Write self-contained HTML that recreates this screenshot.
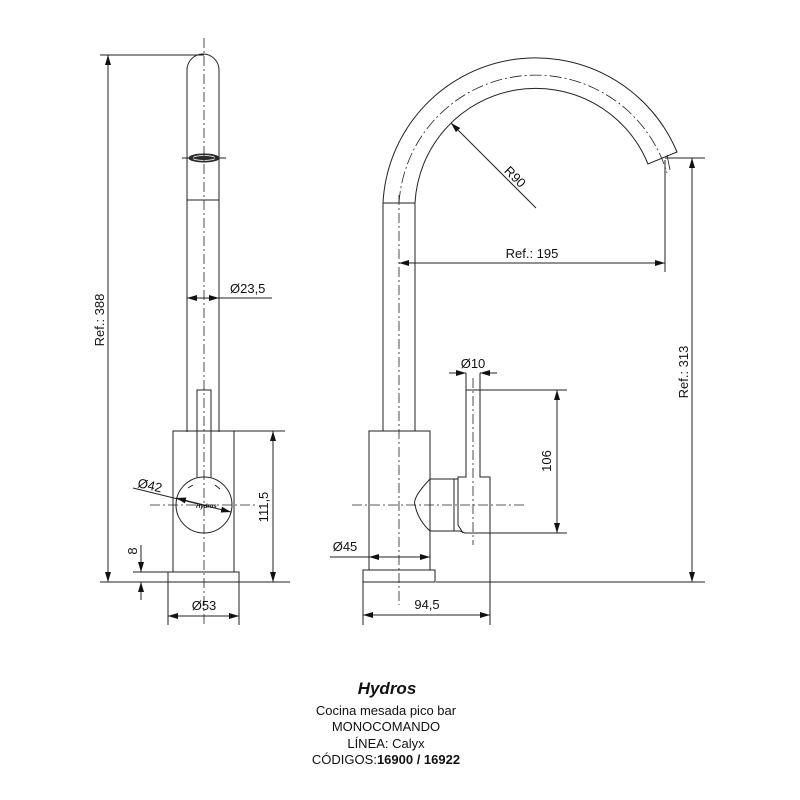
<!DOCTYPE html>
<html><head><meta charset="utf-8"><style>
html,body{margin:0;padding:0;background:#fff}
svg{display:block}
text{font-family:"Liberation Sans",sans-serif;fill:#111}
</style></head><body>
<svg width="800" height="800" viewBox="0 0 800 800" xmlns="http://www.w3.org/2000/svg">
<defs>
<marker id="a" viewBox="0 0 10 6" refX="10" refY="3" markerWidth="10" markerHeight="6" orient="auto-start-reverse" markerUnits="userSpaceOnUse"><path d="M0,0L10,3L0,6z" fill="#111"/></marker>
</defs>
<g stroke="#222" stroke-width="1" fill="none">
<!-- LEFT VIEW -->
<path d="M187,432V70A16,16 0 0 1 219,70V432"/>
<line x1="187" y1="200" x2="219" y2="200"/>
<rect x="173" y="431" width="61" height="141"/>
<rect x="168" y="572" width="71" height="10"/>
<path d="M197,477V390H211V477"/>
<circle cx="204" cy="505" r="28" fill="#fff"/>
<ellipse cx="204" cy="158" rx="15" ry="4" fill="#333"/>
<ellipse cx="204" cy="158" rx="11" ry="2.5" stroke="#fff" stroke-width="0.8" fill="none"/>
<line x1="182" y1="158" x2="226" y2="158"/>
<line x1="188" y1="488" x2="193" y2="485"/><line x1="215" y1="485" x2="220" y2="489"/>
<!-- centerlines -->
<line x1="204" y1="38" x2="204" y2="625" stroke-dasharray="10,3,2,3" stroke-width="0.8"/>
<line x1="150" y1="505" x2="255" y2="505" stroke-dasharray="10,3,2,3" stroke-width="0.8"/>
<!-- dims left -->
<line x1="100" y1="55" x2="204" y2="55"/>
<line x1="100" y1="582" x2="290" y2="582"/>
<line x1="108" y1="55" x2="108" y2="582" marker-start="url(#a)" marker-end="url(#a)"/>
<line x1="234" y1="431" x2="285" y2="431"/>
<line x1="273" y1="431" x2="273" y2="582" marker-start="url(#a)" marker-end="url(#a)"/>
<line x1="133" y1="572" x2="168" y2="572"/>
<line x1="141" y1="545" x2="141" y2="572" marker-end="url(#a)"/>
<line x1="141" y1="600" x2="141" y2="582" marker-end="url(#a)"/>
<line x1="168" y1="582" x2="168" y2="625"/><line x1="239" y1="582" x2="239" y2="625"/>
<line x1="168" y1="616" x2="239" y2="616" marker-start="url(#a)" marker-end="url(#a)"/>
<line x1="187" y1="298" x2="272" y2="298"/>
<line x1="204" y1="298" x2="187" y2="298" marker-end="url(#a)"/>
<line x1="204" y1="298" x2="219" y2="298" marker-end="url(#a)"/>
<line x1="133" y1="488" x2="231" y2="512" marker-end="url(#a)"/>
<line x1="204" y1="505" x2="176" y2="498" marker-end="url(#a)"/>
<!-- RIGHT VIEW -->
<path d="M383,431V203A153,153 0 0 1 677,152L648,164A121,121 0 0 0 415,203V431"/>
<line x1="383" y1="203" x2="415" y2="203"/>
<path d="M399,203A137,137 0 0 1 667,173" stroke-dasharray="12,3,2,3" stroke-width="0.8"/>
<rect x="369" y="431" width="61" height="139"/>
<rect x="363" y="570" width="72" height="12"/>
<path d="M430,479H454V531H430"/>
<path d="M430,479Q412,498 415,505Q418,520 430,531"/>
<path d="M454,479H458V477H466V390H480V477H490V533H465L460,531L454,531"/>
<path d="M458,477V525L463,533"/>
<line x1="399" y1="195" x2="399" y2="605" stroke-dasharray="10,3,2,3" stroke-width="0.8"/>
<line x1="352" y1="505" x2="527" y2="505" stroke-dasharray="10,3,2,3" stroke-width="0.8"/>
<line x1="473" y1="378" x2="473" y2="545" stroke-dasharray="10,3,2,3" stroke-width="0.8"/>
<!-- dims right -->
<line x1="536" y1="208" x2="451" y2="123" marker-end="url(#a)"/>
<line x1="665" y1="160" x2="665" y2="272"/>
<line x1="667" y1="155" x2="670" y2="170" stroke-width="0.8"/>
<line x1="399" y1="263" x2="665" y2="263" marker-start="url(#a)" marker-end="url(#a)"/>
<line x1="665" y1="158" x2="705" y2="158"/>
<line x1="436" y1="582" x2="705" y2="582"/>
<line x1="692" y1="158" x2="692" y2="582" marker-start="url(#a)" marker-end="url(#a)"/>
<line x1="480" y1="390" x2="567" y2="390"/>
<line x1="490" y1="533" x2="567" y2="533"/>
<line x1="557" y1="390" x2="557" y2="533" marker-start="url(#a)" marker-end="url(#a)"/>
<line x1="466" y1="373" x2="466" y2="390"/><line x1="480" y1="373" x2="480" y2="390"/>
<line x1="449" y1="373" x2="466" y2="373" marker-end="url(#a)"/>
<line x1="497" y1="373" x2="480" y2="373" marker-end="url(#a)"/>
<line x1="330" y1="557" x2="430" y2="557"/>
<line x1="399" y1="557" x2="369" y2="557" marker-end="url(#a)"/>
<line x1="399" y1="557" x2="430" y2="557" marker-end="url(#a)"/>
<line x1="363" y1="582" x2="363" y2="625"/><line x1="490" y1="533" x2="490" y2="625"/>
<line x1="363" y1="615" x2="490" y2="615" marker-start="url(#a)" marker-end="url(#a)"/>
</g>
<g font-size="13">
<text x="104" y="320" transform="rotate(-90 104 320)" text-anchor="middle">Ref.: 388</text>
<text x="230" y="293">Ø23,5</text>
<text x="137" y="487" transform="rotate(13 137 487)">Ø42</text>
<text x="268" y="507" transform="rotate(-90 268 507)" text-anchor="middle">111,5</text>
<text x="137" y="551" transform="rotate(-90 137 551)" text-anchor="middle">8</text>
<text x="204" y="610" text-anchor="middle">Ø53</text>
<text x="196" y="508" font-size="6" font-style="italic" font-weight="bold">Hydros</text>
<text x="512" y="180" transform="rotate(45 512 180)" text-anchor="middle">R90</text>
<text x="532" y="258" text-anchor="middle">Ref.: 195</text>
<text x="688" y="372" transform="rotate(-90 688 372)" text-anchor="middle">Ref.: 313</text>
<text x="473" y="368" text-anchor="middle">Ø10</text>
<text x="551" y="461" transform="rotate(-90 551 461)" text-anchor="middle">106</text>
<text x="345" y="551" text-anchor="middle">Ø45</text>
<text x="427" y="609" text-anchor="middle">94,5</text>
</g>
<g text-anchor="middle">
<text x="387" y="694" font-size="17" font-weight="bold" font-style="italic">Hydros</text>
<text x="386" y="715" font-size="13">Cocina mesada pico bar</text>
<text x="386" y="731" font-size="13">MONOCOMANDO</text>
<text x="386" y="748" font-size="13">LÍNEA: Calyx</text>
<text x="386" y="764" font-size="13">CÓDIGOS:<tspan font-weight="bold">16900 / 16922</tspan></text>
</g>
</svg>
</body></html>
